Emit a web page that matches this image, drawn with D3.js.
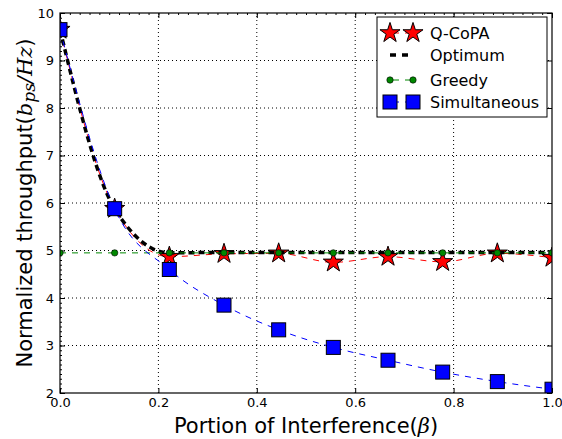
<!DOCTYPE html>
<head>
<meta charset="UTF-8">
<title>Normalized throughput vs portion of interference</title>
<script src="https://cdnjs.cloudflare.com/ajax/libs/d3/7.8.5/d3.min.js"></script>
<style>
body{margin:0;background:#fff;}
text{font-family:"DejaVu Sans",sans-serif;}
.tick text{font-size:13px;}
.lbl{font-size:21px;}
.leg{font-size:16px;}
</style>
</head>
<body>
<div id="chart"></div>
<script>
var width=562, height=439;
var margin={left:60, right:10, top:13, bottom:46};

// data
var beta=[0,1/9,2/9,3/9,4/9,5/9,6/9,7/9,8/9,1];
var qcopa=[9.65,5.88,4.87,4.93,4.94,4.75,4.87,4.76,4.94,4.85];
var optimum=[9.65,5.88,4.95,4.96,4.96,4.96,4.96,4.96,4.96,4.96];
var greedy=[4.95,4.95,4.95,4.95,4.95,4.95,4.95,4.95,4.95,4.95];
var simult=[9.65,5.88,4.6,3.85,3.33,2.96,2.69,2.44,2.24,2.08];
var xticks=[0,0.2,0.4,0.6,0.8,1.0];
var yticks=[2,3,4,5,6,7,8,9,10];
var names=["Q-CoPA","Optimum","Greedy","Simultaneous"];

var svg=d3.select("#chart").append("svg").attr("width",width).attr("height",height);
var x=d3.scaleLinear().domain([0,1]).range([margin.left,width-margin.right]);
var y=d3.scaleLinear().domain([2,10]).range([height-margin.bottom,margin.top]);

svg.append("clipPath").attr("id","clip").append("rect")
  .attr("x",x(0)).attr("y",y(10)).attr("width",x(1)-x(0)).attr("height",y(2)-y(10));

// grid
svg.append("g").selectAll("line").data(xticks.slice(1,-1)).enter().append("line")
  .attr("x1",d=>x(d)).attr("x2",d=>x(d)).attr("y1",y(2)).attr("y2",y(10))
  .attr("stroke","#000").attr("stroke-width",1).attr("stroke-dasharray","1,3");
svg.append("g").selectAll("line").data(yticks.slice(1,-1)).enter().append("line")
  .attr("y1",d=>y(d)).attr("y2",d=>y(d)).attr("x1",x(0)).attr("x2",x(1))
  .attr("stroke","#000").attr("stroke-width",1).attr("stroke-dasharray","1,3");

// axes
function styleAxis(g){g.select(".domain").remove();g.selectAll(".tick line").attr("stroke","#000");}
svg.append("g").attr("transform","translate(0,"+y(2)+")")
  .call(d3.axisBottom(x).tickValues(xticks).tickFormat(d3.format(".1f")).tickSizeInner(-5).tickPadding(5))
  .call(styleAxis).selectAll("text").attr("fill","#000");
svg.append("g").attr("transform","translate(0,"+y(10)+")")
  .call(d3.axisTop(x).tickValues(xticks).tickFormat("").tickSizeInner(-5)).call(styleAxis);
svg.append("g").attr("transform","translate("+x(0)+",0)")
  .call(d3.axisLeft(y).tickValues(yticks).tickFormat(d3.format("d")).tickSizeInner(-5).tickPadding(6))
  .call(styleAxis).selectAll("text").attr("fill","#000");
svg.append("g").attr("transform","translate("+x(1)+",0)")
  .call(d3.axisRight(y).tickValues(yticks).tickFormat("").tickSizeInner(-5)).call(styleAxis);
// minor ticks
svg.append("g").attr("transform","translate("+x(0)+",0)")
  .call(d3.axisRight(y).tickValues(d3.range(2,10.01,0.1)).tickFormat("").tickSizeInner(2)).call(styleAxis);
svg.append("g").attr("transform","translate(0,"+y(10)+")")
  .call(d3.axisBottom(x).tickValues(d3.range(0,1.001,0.02)).tickFormat("").tickSizeInner(2)).call(styleAxis);

var plot=svg.append("g").attr("clip-path","url(#clip)");
var line=d3.line().x((d,i)=>x(beta[i])).y(d=>y(d)).curve(d3.curveMonotoneX);
var star=d3.symbol().type(d3.symbolStar).size(125);

function series(vals,color,width,dash,marker){
  plot.append("path").datum(vals).attr("d",line).attr("fill","none")
    .attr("stroke",color).attr("stroke-width",width).attr("stroke-dasharray",dash);
  var m=plot.append("g").selectAll("g").data(vals).enter().append("g")
    .attr("transform",(d,i)=>"translate("+x(beta[i])+","+y(d)+")");
  marker(m);
}
function drawStar(s){s.append("path").attr("d",star).attr("fill","#f00").attr("stroke","#000").attr("stroke-width",1);}
function drawDot(s){s.append("circle").attr("r",3.2).attr("fill","#080").attr("stroke","#000").attr("stroke-width",0.6);}
function drawSquare(s){s.append("rect").attr("x",-7).attr("y",-7).attr("width",14).attr("height",14)
  .attr("fill","#00f").attr("stroke","#000").attr("stroke-width",1);}

series(qcopa,"#f00",1,"6,6",drawStar);
plot.append("path").datum(optimum).attr("d",line).attr("fill","none")
  .attr("stroke","#000").attr("stroke-width",3.5).attr("stroke-dasharray","6,4");
series(greedy,"#080",1,"6,6",drawDot);
series(simult,"#00f",1,"6,6",drawSquare);

// frame
svg.append("rect").attr("x",x(0)).attr("y",y(10)).attr("width",x(1)-x(0)).attr("height",y(2)-y(10))
  .attr("fill","none").attr("stroke","#000").attr("stroke-width",1.2);

// legend
var lg=svg.append("g").attr("transform","translate(377,17)");
lg.append("rect").attr("width",170).attr("height",100).attr("fill","#fff").attr("stroke","#000").attr("stroke-width",1);
var ly=[16,38,63,85];
var col=["#f00","#000","#080","#00f"];
var mk=[drawStar,null,drawDot,drawSquare];
names.forEach(function(n,i){
  var r=lg.append("g").attr("transform","translate(0,"+ly[i]+")");
  r.append("line").attr("x1",13).attr("x2",36).attr("y1",0).attr("y2",0)
    .attr("stroke",col[i]).attr("stroke-width",i==1?3.5:1).attr("stroke-dasharray","6,6")
    .attr("stroke-dashoffset",i==1?0:-3);
  if(mk[i]){
    mk[i](r.append("g").attr("transform","translate(13,0)"));
    mk[i](r.append("g").attr("transform","translate(36,0)"));
  }
  r.append("text").attr("class","leg").attr("x",53).attr("y",6).text(n);
});

// labels
svg.append("text").attr("class","lbl").attr("x",(x(0)+x(1))/2).attr("y",433).attr("text-anchor","middle")
  .html('Portion of Interference(<tspan font-family="DejaVu Serif" font-style="italic">β</tspan>)');
svg.append("text").attr("class","lbl").attr("transform","translate(32,"+((y(2)+y(10))/2)+") rotate(-90)")
  .attr("text-anchor","middle")
  .html('Normalized throughput(<tspan font-family="DejaVu Serif" font-style="italic">b</tspan><tspan font-family="DejaVu Serif" font-style="italic" font-size="17px" dy="3">ps</tspan><tspan font-family="DejaVu Serif" font-style="italic" dy="-3">/Hz</tspan>)');
</script>
</body>
</html>
